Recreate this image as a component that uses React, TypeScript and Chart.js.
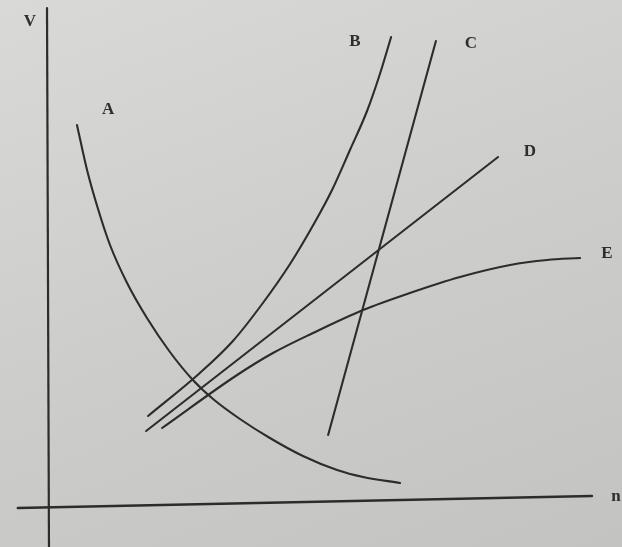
import React, { useEffect, useRef } from "react";
import { Chart, registerables } from "chart.js";

Chart.register(...registerables);

// Curve A: falling curve
const aX = [1.07, 1.43, 1.79, 2.25, 2.86, 3.57, 4.39, 5.21, 5.93, 6.89, 7.96, 9.14, 10.36, 11.29, 12.61];
const aY = [15.2, 13.4, 11.96, 10.4, 8.88, 7.48, 6.12, 5.0, 4.24, 3.44, 2.68, 1.96, 1.4, 1.12, 0.88];

// Curve B: steepening rise
const bX = [3.61, 5.46, 6.64, 7.71, 8.68, 9.57, 10.18, 10.82, 11.43, 11.89, 12.29];
const bY = [3.56, 5.28, 6.56, 8.08, 9.64, 11.32, 12.6, 14.2, 15.76, 17.24, 18.72];

// Line C: steep straight line
const cX = [10.04, 13.89];
const cY = [2.8, 18.56];

// Line D: straight line
const dX = [3.54, 16.11];
const dY = [2.96, 13.92];

// Curve E: flattening rise
const eX = [4.11, 6.79, 8.07, 9.5, 11.29, 12.96, 14.75, 16.54, 17.86, 19.04];
const eY = [3.08, 5.2, 6.08, 6.88, 7.8, 8.48, 9.12, 9.6, 9.8, 9.88];

// Axes (hand-drawn, crossing just left/below the origin)
const xAxisX = [-1.04, 19.46];
const xAxisY = [-0.12, 0.36];
const yAxisX = [0, 0.07];
const yAxisY = [19.88, -1.68];

// Text labels and where they sit
const labelText = ["V", "A", "B", "C", "D", "E", "n"];
const labelX = [-0.61, 2.18, 11.0, 15.14, 17.25, 20.0, 20.32];
const labelY = [19.32, 15.8, 18.52, 18.44, 14.12, 10.04, 0.32];

const pts = (xs: number[], ys: number[]) => xs.map((x, i) => ({ x, y: ys[i] }));

const INK = "#2c2c2c";

const labelPlugin = {
  id: "curveLabels",
  afterDatasetsDraw(chart: any) {
    const { ctx, scales } = chart;
    ctx.save();
    ctx.fillStyle = "#2e2e2e";
    ctx.font = "bold 17px 'Liberation Serif', 'DejaVu Serif', serif";
    ctx.textAlign = "center";
    ctx.textBaseline = "middle";
    labelText.forEach((t, i) => {
      ctx.fillText(t, scales.x.getPixelForValue(labelX[i]), scales.y.getPixelForValue(labelY[i]));
    });
    ctx.restore();
  },
};

export default function App() {
  const ref = useRef<HTMLCanvasElement | null>(null);

  useEffect(() => {
    if (!ref.current) return;
    const line = (data: { x: number; y: number }[], width: number, smooth: boolean) => ({
      data,
      showLine: true,
      borderColor: INK,
      borderWidth: width,
      pointRadius: 0,
      cubicInterpolationMode: smooth ? "monotone" : "default",
      tension: 0,
      fill: false,
      borderCapStyle: "round",
    });
    const chart = new Chart(ref.current, {
      type: "scatter",
      data: {
        datasets: [
          line(pts(xAxisX, xAxisY), 2.6, false),
          line(pts(yAxisX, yAxisY), 2.2, false),
          line(pts(aX, aY), 2.1, true),
          line(pts(bX, bY), 2.1, true),
          line(pts(cX, cY), 2.1, false),
          line(pts(dX, dY), 2.1, false),
          line(pts(eX, eY), 2.1, true),
        ] as any,
      },
      options: {
        animation: false,
        responsive: false,
        devicePixelRatio: 1,
        layout: { padding: 0 },
        clip: false as any,
        plugins: { legend: { display: false }, tooltip: { enabled: false } },
        scales: {
          x: { type: "linear", display: false, min: -1.679, max: 20.536 },
          y: { type: "linear", display: false, min: -1.68, max: 20.2 },
        },
      },
      plugins: [labelPlugin],
    });
    return () => chart.destroy();
  }, []);

  return (
    <div
      style={{
        position: "fixed",
        left: 0,
        top: 0,
        width: 622,
        height: 547,
        background: "linear-gradient(160deg, #d9d9d7 0%, #cdcdcb 50%, #c3c3c1 100%)",
      }}
    >
      <canvas ref={ref} width={622} height={547} style={{ display: "block" }} />
    </div>
  );
}
